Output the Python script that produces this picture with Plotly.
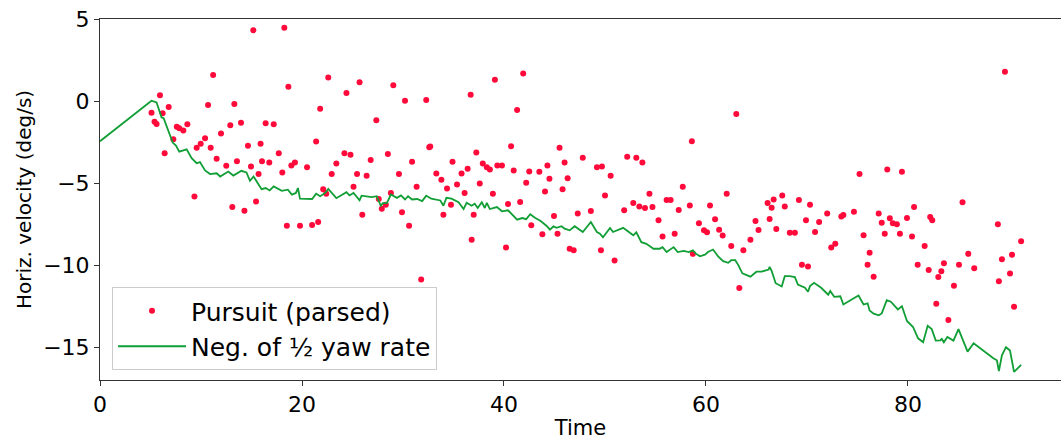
import plotly.graph_objects as go

# Pursuit (parsed) scatter points
pursuit_t = [5.1, 5.4, 5.6, 5.94, 6.2, 6.4, 6.8, 7.26, 7.6, 7.85, 8.25, 8.65, 9.35, 9.57, 9.97,
             10.4, 10.7, 10.96, 11.2, 11.55, 11.98, 12.5, 12.9, 13.1, 13.3, 13.56, 13.96, 14.3,
             14.65, 14.95, 15.18, 15.45, 15.7, 15.9, 16.04, 16.4, 16.76, 17.2, 17.7, 18.05, 18.25,
             18.5, 18.65, 18.95, 19.3, 19.8, 20.5, 21.0, 21.4, 21.6, 21.8, 22.1, 22.4, 22.6, 22.94,
             23.4, 24.2, 24.4, 24.8, 25.1, 25.45, 25.7, 25.97, 26.4, 26.8, 27.36, 27.6, 27.9, 28.3,
             28.5, 28.8, 29.04, 29.6, 29.9, 30.2, 30.6, 30.9, 31.35, 31.8, 32.3, 32.6, 32.7, 33.3,
             33.8, 34.0, 34.36, 34.75, 34.9, 35.35, 35.8, 36.1, 36.4, 36.7, 36.8, 37.0, 37.26, 37.6,
             37.9, 38.3, 38.6, 38.9, 39.1, 39.34, 39.8, 40.2, 40.4, 40.7, 40.96, 41.3, 41.6, 41.9,
             42.2, 42.5, 42.7, 43.5, 43.8, 44.06, 44.3, 44.5, 44.95, 45.3, 45.5, 45.8, 46.0, 46.3,
             46.5, 46.9, 47.3, 47.8, 48.6, 49.2, 49.6, 49.7, 50.0, 50.56, 50.95, 51.9, 52.2, 52.8,
             53.1, 53.4, 53.7, 53.96, 54.4, 54.7, 55.3, 55.7, 56.1, 56.5, 56.9, 57.3, 57.7, 58.4,
             58.6, 58.7, 59.3, 59.8, 60.1, 60.4, 60.9, 61.3, 61.65, 62.05, 62.5, 63.0, 63.3, 63.7,
             64.4, 64.9, 65.2, 66.1, 66.3, 66.5, 66.7, 66.96, 67.55, 67.8, 68.3, 68.8, 69.2, 69.5,
             69.9, 70.1, 70.3, 70.8, 71.2, 72.0, 72.4, 72.8, 73.4, 73.6, 74.65, 75.2, 75.6, 76.0,
             76.2, 76.6, 77.1, 77.4, 77.7, 77.95, 78.2, 78.5, 78.9, 79.2, 79.4, 79.9, 80.4, 80.6,
             80.96, 81.65, 82.05, 82.2, 82.4, 82.8, 83.0, 83.3, 83.56, 84.0, 84.55, 85.05, 85.4,
             85.97, 86.56, 88.9, 89.0, 89.3, 89.6, 90.1, 90.3, 90.5, 91.2]
pursuit_v = [-0.71, -1.26, -1.4, 0.35, -0.75, -3.18, -0.36, -2.33, -1.56, -1.66, -1.8, -1.42, -5.81,
             -2.84, -2.61, -2.27, -0.24, -2.84, 1.58, -3.52, -1.98, -3.95, -1.48, -6.46, -0.18,
             -3.67, -1.32, -6.68, -2.73, -3.99, 4.31, -6.12, -4.45, -2.61, -3.67, -1.36, -3.74,
             -1.42, -3.18, -4.35, 4.47, -7.6, 0.87, -3.93, -3.74, -7.6, -4.03, -7.55, -2.47, -7.37,
             -0.47, -5.37, -5.65, 1.44, -4.45, -3.81, -3.18, 0.49, -3.28, -5.22, -4.45, 1.15, -6.93,
             -4.56, -3.6, -1.17, -5.97, -6.56, -6.32, -3.22, -5.6, 0.97, -4.45, -6.78, 0.02, -7.6,
             -3.7, -5.22, -10.87, 0.06, -2.81, -2.77, -4.41, -4.8, -6.93, -5.33, -6.32, -3.7, -5.08,
             -4.41, -5.6, -4.13, 0.38, -8.45, -6.93, -3.14, -5.02, -3.81, -4.03, -4.17, -5.65, 1.3,
             -3.93, -3.93, -8.93, -6.28, -2.75, -4.23, -0.55, -6.15, 1.68, -4.98, -4.29, -7.57,
             -4.31, -8.12, -5.51, -3.93, -4.74, -7.0, -8.08, -2.84, -5.37, -3.74, -4.7, -9.0, -9.1,
             -6.85, -3.46, -6.7, -4.03, -9.1, -3.99, -5.75, -4.56, -9.72, -6.66, -3.4, -6.22, -3.46,
             -6.42, -3.74, -6.52, -5.65, -6.46, -7.27, -8.26, -6.03, -6.03, -8.08, -6.64, -5.22,
             -6.36, -2.45, -9.31, -7.45, -7.88, -8.0, -6.36, -7.21, -7.84, -8.2, -5.65, -8.83, -0.79,
             -11.4, -9.1, -8.46, -7.31, -7.86, -6.22, -7.19, -6.5, -6.0, -7.8, -5.75, -6.42, -8.02,
             -8.02, -6.03, -9.98, -7.27, -10.08, -6.32, -7.98, -7.37, -6.85, -8.93, -8.69, -7.03,
             -6.94, -6.74, -4.45, -8.18, -9.98, -9.25, -10.71, -6.85, -7.41, -8.08, -4.17, -7.15,
             -7.45, -7.51, -8.08, -4.31, -7.13, -8.26, -6.46, -9.98, -8.83, -10.3, -7.07, -7.27,
             -12.35, -10.73, -10.37, -9.88, -13.35, -11.26, -9.98, -6.17, -9.31, -10.19, -7.51,
             -10.98, -9.64, 1.78, -10.51, -9.37, -12.53, -8.55]

# Negative of half yaw rate
yaw_t = [0, 5.1, 5.6, 5.94, 6.1, 6.3, 6.77, 7.2, 7.52, 7.85, 8.58, 9.07, 9.57, 9.9, 10.4, 10.9,
         11.55, 11.9, 12.7, 13.2, 14.0, 14.5, 14.85, 15.2, 16.0, 16.4, 16.8, 17.2, 18.0, 18.6, 19.0,
         19.4, 19.6, 19.8, 21.0, 21.4, 21.8, 22.3, 22.6, 23.1, 23.4, 24.4, 24.7, 25.1, 25.7, 25.9,
         26.9, 27.4, 27.8, 28.0, 28.4, 28.8, 29.4, 29.8, 30.2, 30.5, 30.9, 31.4, 31.9, 32.3, 32.8,
         33.7, 34.0, 34.3, 34.8, 35.5, 36.0, 36.3, 36.8, 37.1, 37.4, 37.8, 38.1, 38.3, 38.6, 39.3,
         39.8, 40.4, 41.3, 41.8, 42.2, 42.6, 43.1, 43.6, 44.2, 44.55, 44.9, 45.2, 45.7, 46.0, 46.5,
         47.0, 47.8, 48.6, 49.2, 49.5, 49.8, 50.5, 50.8, 51.8, 52.5, 52.8, 53.1, 53.6, 54.1, 54.8,
         55.4, 55.7, 56.1, 56.8, 57.2, 57.8, 58.3, 58.7, 59.0, 59.4, 59.9, 60.2, 60.7, 61.2, 61.7,
         62.2, 62.5, 62.9, 63.2, 63.6, 64.4, 65.0, 65.5, 66.2, 66.3, 66.5, 66.9, 67.5, 67.8, 68.3,
         68.8, 69.1, 69.8, 70.1, 70.3, 70.7, 71.4, 72.1, 72.3, 72.7, 73.3, 73.6, 75.1, 75.6, 76.0,
         76.2, 76.6, 77.1, 77.4, 77.9, 78.3, 79.0, 79.4, 79.9, 80.5, 81.0, 81.5, 81.95, 82.35,
         82.75, 83.2, 83.35, 83.55, 83.9, 84.5, 85.0, 85.9, 86.5, 88.45, 88.8, 89.0, 89.3, 89.7,
         90.1, 90.5, 91.2]
yaw_v = [-2.45, 0.02, -0.08, -0.75, -1.0, -1.05, -1.86, -2.53, -2.71, -3.08, -2.94, -3.48, -3.79,
         -3.72, -4.23, -4.45, -4.4, -4.6, -4.3, -4.54, -4.25, -4.35, -4.86, -4.6, -5.37, -5.3,
         -5.45, -5.2, -5.47, -5.4, -5.7, -5.6, -5.3, -5.95, -5.97, -5.65, -5.8, -5.6, -5.35, -5.67,
         -5.92, -5.55, -5.75, -5.6, -6.05, -5.77, -5.85, -5.8, -6.38, -6.22, -6.22, -5.7, -5.9,
         -5.75, -6.0, -5.8, -6.0, -5.97, -6.1, -5.77, -5.95, -6.06, -6.38, -5.9, -5.95, -6.17,
         -6.58, -6.2, -6.38, -6.26, -6.52, -6.17, -6.52, -6.2, -6.58, -6.46, -6.72, -6.66, -7.23,
         -7.13, -7.2, -6.9, -7.13, -7.3, -7.6, -7.84, -7.63, -7.73, -7.63, -7.78, -7.88, -7.63,
         -7.98, -7.37, -7.98, -8.08, -8.3, -7.73, -7.98, -7.73, -8.08, -8.18, -8.0, -8.6, -8.7,
         -9.0, -9.0, -8.9, -9.2, -8.9, -9.2, -9.13, -9.2, -9.1, -9.3, -9.46, -9.36, -9.2, -9.05,
         -9.46, -9.76, -9.86, -9.7, -9.7, -10.0, -10.5, -10.7, -10.4, -10.4, -10.27, -10.1, -10.35,
         -11.1, -11.3, -10.67, -10.67, -10.73, -11.18, -11.38, -11.62, -11.28, -11.08, -11.38,
         -11.8, -11.58, -11.93, -11.9, -12.4, -11.85, -12.4, -12.33, -12.76, -12.96, -13.06,
         -12.94, -12.13, -12.23, -12.7, -12.5, -13.4, -13.77, -14.46, -14.7, -13.7, -13.9, -14.6,
         -14.58, -14.5, -14.7, -14.38, -14.6, -13.9, -15.27, -14.76, -15.67, -15.8, -16.45, -15.5,
         -15.0, -15.2, -16.5, -16.08]

x_ticks = [0, 20, 40, 60, 80]
y_ticks = [-15, -10, -5, 0, 5]

FONT = "DejaVu Sans"
AXIS_COLOR = "#333333"

fig = go.Figure()
fig.add_trace(go.Scatter(
    x=pursuit_t, y=pursuit_v, mode="markers", name="Pursuit (parsed)",
    marker=dict(color="#ff0a3a", size=6, line=dict(width=0)),
))
fig.add_trace(go.Scatter(
    x=yaw_t, y=yaw_v, mode="lines", name="Neg. of \u00bd yaw rate",
    line=dict(color="#119e35", width=1.8),
))

fig.update_layout(
    width=1061, height=441,
    margin=dict(l=100, r=0, t=19, b=61),
    paper_bgcolor="white", plot_bgcolor="white",
    font=dict(family=FONT, color="black", size=22),
    showlegend=True,
    legend=dict(
        x=0.0125, y=0.2576, xanchor="left", yanchor="top",
        bgcolor="rgba(255,255,255,0.8)", bordercolor="#cccccc", borderwidth=1,
        font=dict(family=FONT, size=25, color="black"),
        itemwidth=68,
    ),
    xaxis=dict(
        range=[0, 95.15], tickvals=x_ticks, ticktext=[str(v) for v in x_ticks],
        showgrid=False, zeroline=False,
        showline=True, linecolor=AXIS_COLOR, linewidth=1, mirror=True,
        ticks="outside", ticklen=5, tickcolor=AXIS_COLOR, tickwidth=1,
        tickfont=dict(family=FONT, size=22),
        title=dict(text="Time", font=dict(family=FONT, size=21), standoff=3),
    ),
    yaxis=dict(
        range=[-17, 5], tickvals=y_ticks, ticktext=["\u221215", "\u221210", "\u22125", "0", "5"],
        showgrid=False, zeroline=False,
        showline=True, linecolor=AXIS_COLOR, linewidth=1,
        ticks="outside", ticklen=5, tickcolor=AXIS_COLOR, tickwidth=1,
        tickfont=dict(family=FONT, size=22),
        title=dict(text="Horiz. velocity (deg/s)", font=dict(family=FONT, size=20), standoff=6),
    ),
)

fig.write_html("out.html")
